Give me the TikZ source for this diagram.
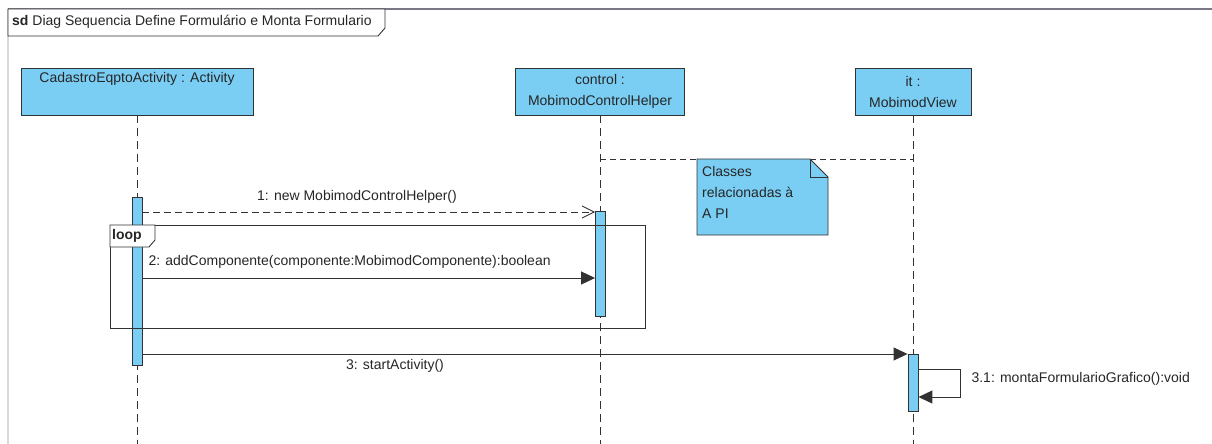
\documentclass[tikz,border=0pt]{standalone}
\usepackage{fontspec}
\setmainfont{Liberation Sans}
\usetikzlibrary{arrows.meta}
\definecolor{lifefill}{RGB}{122,206,244}
\definecolor{edge}{RGB}{50,50,50}
\definecolor{framegray}{RGB}{120,120,135}
\tikzset{
  txt/.style={font=\fontsize{14}{21}\selectfont, text=black!85},
  head/.style={txt, draw=edge, fill=lifefill, line width=0.9pt, align=center, inner sep=0pt},
  bar/.style={draw=edge, fill=lifefill, line width=0.9pt, minimum width=10pt, inner sep=0pt},
  lifeline/.style={edge, line width=1pt, dash pattern=on 8pt off 5pt},
  callmsg/.style={edge, line width=1pt, -{Triangle[length=14pt,width=13pt]}},
  createmsg/.style={edge, line width=0.9pt, dash pattern=on 7pt off 4pt, -{Straight Barb[length=12pt,width=12pt]}},
  fragment/.style={edge, line width=0.9pt},
  guide/.style={edge, line width=0.9pt, dash pattern=on 6pt off 4pt}
}
\begin{document}
\begin{tikzpicture}[x=1pt,y=-1pt]
\useasboundingbox (0,0) rectangle (1212,444);

% diagram frame
\draw[black!15, line width=2pt] (8,9) -- (8,444);
\draw[framegray, line width=2pt] (8,9) -- (1212,9);
\draw[fragment, fill=white] (8,9) -- (385,9) -- (385,28) -- (378,36) -- (8,36) -- cycle;
\node[txt, anchor=west, inner sep=0pt] (title) at (12,22) {\textbf{sd} Diag Sequencia Define Formulário e Monta Formulario};

% lifeline heads
\node[head, minimum width=232pt, minimum height=47pt] (act) at (137,91.5) {CadastroEqptoActivity : Activity\\\strut};
\node[head, minimum width=169pt, minimum height=47pt] (ctl) at (600,91.5) {control :\\MobimodControlHelper};
\node[head, minimum width=116pt, minimum height=47pt] (view) at (913,91.5) {it :\\MobimodView};

% lifelines
\coordinate (actEnd) at (137,444);
\coordinate (ctlEnd) at (600,444);
\coordinate (viewEnd) at (913,444);
\draw[lifeline] (act.south) -- (actEnd);
\draw[lifeline] (ctl.south) -- (ctlEnd);
\draw[lifeline] (view.south) -- (viewEnd);

% grouping guide for the API classes
\coordinate (gL) at (600,159);
\coordinate (gR) at (913,159);
\draw[guide] (gL) -- (gR);

% note
\draw[fragment, fill=lifefill] (697,159) -- (810,159) -- (828,177) -- (828,235) -- (697,235) -- cycle;
\draw[fragment] (810,159) -- (810,177) -- (828,177);
\node[txt, anchor=north west, align=left, inner sep=0pt] (note) at (702,166) {Classes\\relacionadas à\\A PI};

% activation bars
\node[bar, minimum height=168pt] (actBar) at (137,281) {};
\node[bar, minimum height=105pt] (ctlBar) at (600.5,263.5) {};
\node[bar, minimum height=57pt] (viewBar) at (913,382.5) {};

% loop fragment, drawn over the bars
\draw[fragment] (110,225) rectangle (645,328);
\draw[fragment, fill=white] (110,225) -- (155,225) -- (155,240) -- (149,247) -- (110,247) -- cycle;
\node[txt, anchor=west, inner sep=0pt] (loopTag) at (112,236) {\textbf{loop}};

% messages
\draw[createmsg] (actBar.east |- 0,212) -- (ctlBar.west |- 0,212);
\node[txt] (m1) at (357,197) {1: new MobimodControlHelper()};

\draw[callmsg] (actBar.east |- 0,278) -- (ctlBar.west |- 0,278);
\node[txt, anchor=west] (m2) at (145,262) {2: addComponente(componente:MobimodComponente):boolean};

\draw[callmsg] (actBar.east |- 0,354) -- (viewBar.west |- 0,354);
\node[txt] (m3) at (395,366) {3: startActivity()};

\coordinate (selfA) at (960,369);
\coordinate (selfB) at (960,397);
\draw[callmsg] (viewBar.east |- selfA) -- (selfA) -- (selfB) -- (viewBar.east |- selfB);
\node[txt, anchor=west] (m31) at (968,379) {3.1: montaFormularioGrafico():void};
\end{tikzpicture}
\end{document}
